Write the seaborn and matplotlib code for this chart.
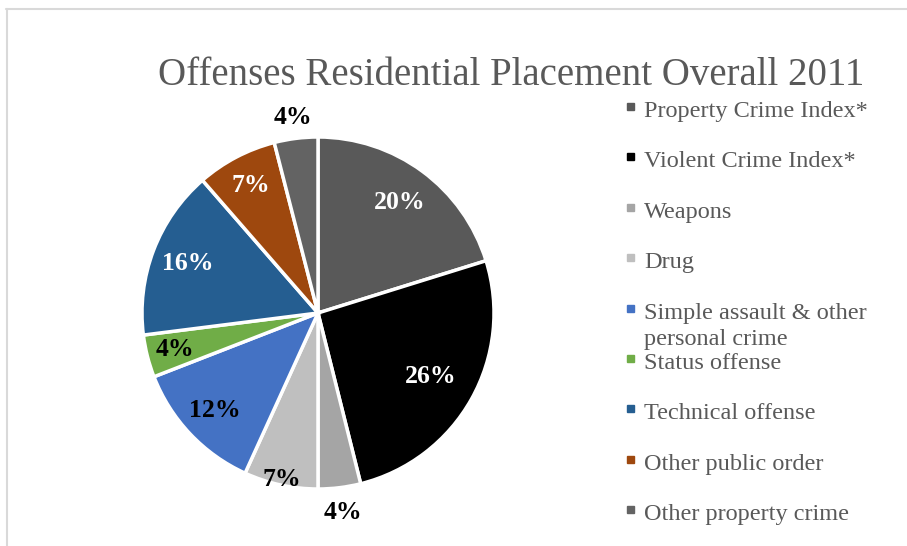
import numpy as np
import matplotlib.pyplot as plt
import seaborn as sns
from matplotlib.lines import Line2D
from matplotlib.patches import Rectangle

# offense categories and their share of placements (percent)
categories = ["Property Crime Index*", "Violent Crime Index*", "Weapons", "Drug",
              "Simple assault & other\npersonal crime", "Status offense",
              "Technical offense", "Other public order", "Other property crime"]
shares = [20.2, 25.9, 3.9, 6.8, 12.3, 3.9, 15.6, 7.4, 4.0]
slice_colors = ["#595959", "#000000", "#a5a5a5", "#bfbfbf", "#4472c4",
                "#70ad47", "#255e91", "#9e480e", "#636363"]

# label look for each slice
label_colors = ["white", "white", "black", "black", "black", "black", "white", "white", "black"]
label_radius = [0.78, 0.735, 1.14, 0.97, 0.81, 0.84, 0.79, 0.82, 1.12]

sns.set_style("white")
plt.rcParams["font.family"] = ["Liberation Serif", "DejaVu Serif"]

W, H = 907, 546
fig = plt.figure(figsize=(W / 100, H / 100), dpi=100)

ax = fig.add_axes([142 / W, 1 - 489 / H, 352 / W, 352 / H])
wedges, _ = ax.pie(shares, colors=slice_colors, startangle=90, counterclock=False,
                   wedgeprops=dict(edgecolor="white", linewidth=2.5))
ax.set_xlim(-1, 1)
ax.set_ylim(-1, 1)
ax.set_aspect("equal")
ax.axis("off")

for w, s, c, r in zip(wedges, shares, label_colors, label_radius):
    ang = np.deg2rad((w.theta1 + w.theta2) / 2)
    ax.text(r * np.cos(ang), r * np.sin(ang), f"{s:.0f}%", ha="center", va="center",
            color=c, fontsize=18.5, fontweight="bold")

fig.text(511 / W, 1 - 85 / H, "Offenses Residential Placement Overall 2011",
         ha="center", va="baseline", fontsize=28, color="#595959")

# legend, one row every ~50 px; wrapped names spill downward
for i, (name, col) in enumerate(zip(categories, slice_colors)):
    yb = 1 - (117 + i * 50.4) / H
    for j, part in enumerate(name.split("\n")):
        fig.text(644 / W, yb - j * 26 / H, part, ha="left", va="baseline",
                 fontsize=17.5, color="#595959")
    fig.add_artist(Rectangle((627 / W, yb + 7 / H), 7 / W, 7 / H,
                             transform=fig.transFigure, color=col))

# chart-area border (top and left edges visible)
fig.add_artist(Line2D([6 / W, 1], [1 - 8.5 / H] * 2, color="#d9d9d9", lw=1.5))
fig.add_artist(Line2D([7 / W] * 2, [0, 1 - 8.5 / H], color="#d9d9d9", lw=1.5))

fig.savefig("out.png", dpi=100)
